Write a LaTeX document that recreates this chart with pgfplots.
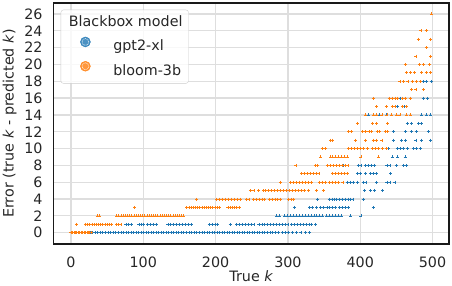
\documentclass[border=0pt]{standalone}
\usepackage{fontspec}
\setmainfont{DejaVu Sans}
\usepackage{pgfplots}
\pgfplotsset{compat=1.18}
\definecolor{c1}{RGB}{31,119,180}
\definecolor{c2}{RGB}{255,127,14}
\definecolor{gridc}{RGB}{222,222,222}
\definecolor{txt}{RGB}{38,38,38}
\begin{document}
\fontsize{14.3bp}{17bp}\selectfont
\begin{tikzpicture}
\begin{axis}[
  scale only axis, width=395.5bp, height=241bp,
  xmin=-24.2, xmax=522.8, ymin=-1.34, ymax=27.3,
  xtick={0,100,200,300,400,500}, ytick={0,2,4,6,8,10,12,14,16,18,20,22,24,26},
  grid=major, major grid style={gridc, line width=1.2bp},
  axis line style={black!90, line width=1.2bp},
  major tick length=0pt, tick style={draw=none},
  /pgf/number format/assume math mode=true,
  ticklabel style={font=\fontsize{14.3bp}{17bp}\selectfont, text=txt},
  yticklabel style={inner sep=0pt, anchor=east, xshift=-10.8bp},
  xticklabel style={inner sep=0pt, anchor=north, yshift=-12.7bp},
  xlabel={True \textit{k}},
  ylabel={Error (true \textit{k} - predicted \textit{k})},
  xlabel style={at={(axis description cs:0.5,0)}, anchor=north, inner sep=0pt, yshift=-26.5bp, text=txt},
  ylabel style={at={([xshift=-51bp]axis description cs:0,0.5)}, anchor=north, inner sep=0pt, text=txt},
  legend style={at={(0.0182,0.972)}, anchor=north west, draw=black!20, rounded corners=2.5bp,
    fill=white, fill opacity=0.8, text opacity=1, inner xsep=6bp, inner ysep=4.7bp,
    row sep=6.7bp, column sep=10bp, text=txt,
    nodes={inner sep=0pt, text height=11.9bp, text depth=3.5bp},
    font=\fontsize{14.3bp}{17bp}\selectfont},
  legend cell align=left,
]
\addlegendimage{empty legend}
\addlegendentry{\hspace{-44.4bp}Blackbox model}
\addlegendimage{legend image code/.code={\path (0bp,0bp) (36bp,0bp); \fill[c1] (18.3bp,4.7bp) circle (5bp); \draw[white, line width=0.5bp, dash pattern=on 0.8bp off 0.8bp] (18.3bp,4.7bp) circle (3.4bp);}}
\addlegendentry{gpt2-xl}
\addlegendimage{legend image code/.code={\path (0bp,0bp) (36bp,0bp); \fill[c2] (18.3bp,4.7bp) circle (5bp); \draw[white, line width=0.5bp, dash pattern=on 0.8bp off 0.8bp] (18.3bp,4.7bp) circle (3.4bp);}}
\addlegendentry{bloom-3b}

% gpt2-xl
\addplot[only marks, mark=+, mark size=1.5bp, c1, line width=0.7bp, forget plot] coordinates {
(0,0)(4,0)(8,0)(12,0)(16,0)(20,0)(24,0)(27,0)(30,0)(34,0)(37,0)(41,0)(44,0)(48,0)(51,0)(55,0)(58,0)(62,0)(65,0)(69,0)(72,0)(76,0)(79,0)(83,0)(86,0)(90,0)(93,0)(97,0)(100,0)(104,0)(107,0)(111,0)(114,0)(118,0)(121,0)(125,0)(128,0)(132,0)(135,0)(139,0)(142,0)(146,0)(149,0)(153,0)(156,0)(160,0)(163,0)(167,0)(170,0)(174,0)(177,0)(181,0)(184,0)(188,0)(191,0)(195,0)(198,0)(202,0)(205,0)(209,0)(212,0)(216,0)(219,0)(223,0)(226,0)(230,0)(233,0)(237,0)(240,0)(244,0)(247,0)(251,0)(254,0)(258,0)(261,0)(265,0)(268,0)(272,0)(276,0)(279,0)(283,0)(287,0)(292,0)(297,0)(301,0)(306,0)(312,0)(318,0)(324,0)(330,0)
(76,1)(80,1)(84,1)(94,1)(97,1)(100,1)(106,1)(110,1)(114,1)(118,1)(134,1)(138,1)(142,1)(146,1)(150,1)(154,1)(158,1)(162,1)(166,1)(191,1)(195,1)(199,1)(203,1)(220,1)(229,1)(233,1)(237,1)(241,1)(245,1)(249,1)(253,1)(260,1)(264,1)(268,1)(272,1)(276,1)(280,1)(284,1)(288,1)(292,1)(296,1)(300,1)(305,1)(309,1)(313,1)(317,1)(321,1)(325,1)(329,1)(333,1)(338,1)
(284,2)(288,2)(295,2)(299,2)(304,2)(308,2)(312,2)(316,2)(320,2)(324,2)(328,2)(332,2)(336,2)(340,2)(344,2)(348,2)(353,2)(357,2)(361,2)(366,2)(370,2)(374,2)(387,2)(401,2)
(309,3)(330,3)(334,3)(340,3)(345,3)(349,3)(354,3)(358,3)(362,3)(366,3)(371,3)(375,3)(380,3)(384,3)(418,3)
(341,4)(358,4)(361,4)(364,4)(367,4)(371,4)(375,4)(379,4)(383,4)(387,4)(390,4)(404,4)
(406,5)(414,5)(420,5)(431,5)
(382,6)(386,6)(391,6)(396,6)(404,6)(408,6)(423,6)(437,6)(441,6)(448,6)
(396,7)(400,7)(407,7)(414,7)(418,7)(423,7)(442,7)
(377,8)(397,8)(401,8)(407,8)(411,8)(416,8)(420,8)(437,8)(441,8)(450,8)(460,8)(464,8)
(444,9)(452,9)(462,9)
(439,10)(452,10)(456,10)(460,10)(465,10)(474,10)(478,10)(483,10)
(446,11)(457,11)(463,11)(477,11)(485,11)(497,11)
(446,12)(463,12)(471,12)(478,12)(494,12)
(465,13)(471,13)(481,13)(485,13)
(411,14)(427,14)(436,14)(485,14)(492,14)(497,14)
(452,15)(461,15)
(456,16)(487,16)(493,16)
(487,18)(492,18)(498,18)
};

% bloom-3b
\addplot[only marks, mark=+, mark size=1.5bp, c2, line width=0.7bp, forget plot] coordinates {
(0,0)(2,0)(4,0)(6,0)(8,0)(10,0)(12,0)(14,0)(16,0)(18,0)(20,0)(22,0)(24,0)(26,0)(28,0)
(8,1)(20,1)(23,1)(26,1)(29,1)(32,1)(35,1)(38,1)(41,1)(44,1)(47,1)(50,1)(53,1)(56,1)(63,1)(66,1)(69,1)
(36,2)(39,2)(63,2)(66,2)(69,2)(72,2)(75,2)(78,2)(81,2)(84,2)(87,2)(90,2)(93,2)(96,2)(99,2)(102,2)(105,2)(108,2)(111,2)(114,2)(117,2)(120,2)(123,2)(126,2)(129,2)(132,2)(135,2)(138,2)(141,2)(144,2)(147,2)(150,2)(153,2)(156,2)
(88,3)(160,3)(163,3)(166,3)(169,3)(172,3)(175,3)(178,3)(181,3)(184,3)(187,3)(190,3)(193,3)(196,3)(199,3)(202,3)(205,3)(217,3)(220,3)(223,3)(226,3)(229,3)(233,3)
(174,4)(201,4)(205,4)(209,4)(214,4)(218,4)(222,4)(226,4)(230,4)(234,4)(243,4)(246,4)(252,4)(256,4)(260,4)(264,4)(268,4)(274,4)(278,4)(282,4)(286,4)(290,4)(301,4)(305,4)(308,4)
(248,5)(253,5)(259,5)(266,5)(269,5)(273,5)(277,5)(281,5)(285,5)(290,5)(294,5)(298,5)(302,5)(306,5)(310,5)(314,5)(319,5)(323,5)(328,5)(340,5)(349,5)
(290,6)(304,6)(308,6)(312,6)(316,6)(320,6)(324,6)(328,6)(332,6)(344,6)(348,6)(352,6)(357,6)(361,6)(366,6)(370,6)(376,6)
(319,7)(323,7)(327,7)(331,7)(335,7)(339,7)(343,7)(362,7)(366,7)(370,7)(374,7)(378,7)(382,7)
(311,8)(338,8)(341,8)(355,8)(359,8)(363,8)(367,8)(371,8)(375,8)(379,8)(383,8)
(345,9)(359,9)(362,9)(366,9)(370,9)(374,9)(378,9)(382,9)(401,9)(425,9)
(348,10)(352,10)(384,10)(388,10)(392,10)(396,10)(400,10)(405,10)(410,10)(417,10)(421,10)(425,10)(431,10)(436,10)
(359,11)(362,11)(393,11)(407,11)(418,11)(423,11)(430,11)
(384,12)(388,12)(403,12)(407,12)(412,12)(416,12)(424,12)(427,12)(435,12)(438,12)
(396,13)(417,13)(423,13)(438,13)
(407,14)(418,14)(423,14)(430,14)(437,14)(443,14)(450,14)(455,14)(464,14)(469,14)
(423,15)(436,15)(444,15)(448,15)(458,15)(464,15)
(418,16)(440,16)(444,16)(448,16)(452,16)(458,16)(463,16)(469,16)
(471,17)(477,17)(487,17)
(455,18)(460,18)(466,18)(472,18)(478,18)(483,18)
(464,19)(470,19)(475,19)(485,19)(491,19)(497,19)
(463,20)(482,20)(488,20)(496,20)
(477,21)(497,21)
(492,22)
(480,23)(497,23)
(484,24)(491,24)
(499,26)
};
\end{axis}
\pgfresetboundingbox
\path ([shift={(-53.5bp,-42bp)}]current axis.south west) rectangle ([shift={(3bp,3bp)}]current axis.north east);
\end{tikzpicture}
\end{document}
